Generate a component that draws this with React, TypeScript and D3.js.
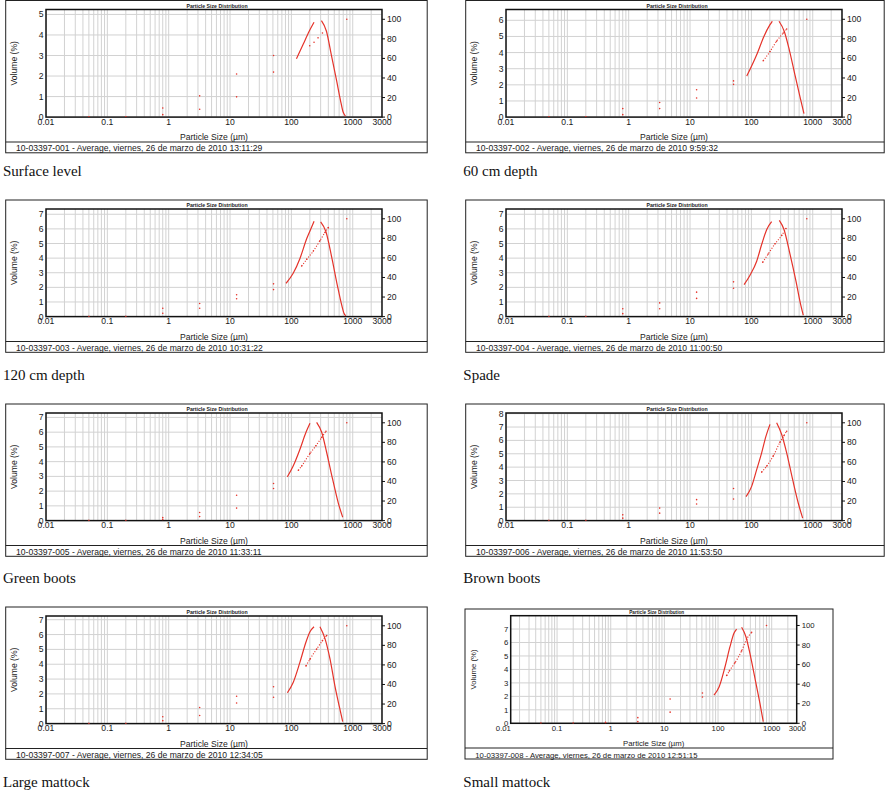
import * as d3 from 'd3'

const SANS = '"Liberation Sans", Arial, Helvetica, sans-serif'
const SERIF = '"Liberation Serif", "Times New Roman", serif'
const RED = '#e5332a'
const GRID = '#d2d2d2'

// one entry per panel
const captions = ['Surface level', '60 cm depth', '120 cm depth', 'Spade', 'Green boots', 'Brown boots', 'Large mattock', 'Small mattock']
const sampleIds = ['10-03397-001', '10-03397-002', '10-03397-003', '10-03397-004', '10-03397-005', '10-03397-006', '10-03397-007', '10-03397-008']
const times = ['13:11:29', '9:59:32', '10:31:22', '11:00:50', '11:33:11', '11:53:50', '12:34:05', '12:51:15']
const volumeMax = [5.24, 6.67, 7.36, 7.36, 7.3, 8.05, 7.25, 7.99]
const volumeTickMax = [5, 6, 7, 7, 7, 8, 7, 7]

const xTicks = [0.01, 0.1, 1, 10, 100, 1000, 3000]
const xTickLabels = ['0.01', '0.1', '1', '10', '100', '1000', '3000']
const cumTicks = [0, 20, 40, 60, 80, 100]

// sieve sizes (µm) where two points are plotted, plus the 100 % point
const sieveSizes = [0.05, 0.2, 0.8, 3.2, 12.8, 51.2]
const fullSize = 800

// volume (%) – rising and falling branches of the distribution, [size µm, volume %]
const volRise = [
  [[121, 2.84], [155, 3.53], [195, 4.18], [234, 4.62]],
  [[84, 2.54], [125, 3.96], [160, 5.0], [201, 5.73], [219, 5.94]],
  [[82, 2.28], [107, 2.96], [138, 3.98], [178, 5.34], [214, 6.13], [234, 6.52]],
  [[76, 2.19], [95, 2.83], [122, 3.79], [147, 4.93], [178, 5.96], [214, 6.49]],
  [[86, 2.97], [107, 3.7], [138, 4.84], [173, 5.99], [201, 6.6]],
  [[82, 1.8], [101, 2.56], [122, 3.81], [147, 5.07], [173, 6.32], [201, 7.2]],
  [[86, 2.08], [107, 2.77], [138, 4.14], [173, 5.5], [201, 6.19], [234, 6.53]],
  [[84, 2.1], [105, 2.72], [135, 4.2], [167, 5.69], [198, 6.68], [222, 7.0]],
]
const volFall = [
  [[309, 4.7], [373, 4.18], [447, 3.04], [543, 1.81], [630, 0.83], [695, 0.26], [760, 0.05]],
  [[282, 5.94], [344, 5.31], [415, 4.17], [514, 2.6], [620, 1.25], [720, 0.21]],
  [[300, 6.48], [366, 5.8], [453, 4.09], [560, 2.16], [660, 0.8], [720, 0.23], [770, 0.05]],
  [[285, 6.58], [340, 5.96], [427, 4.25], [533, 2.42], [636, 0.82], [701, 0.1]],
  [[258, 6.67], [312, 5.99], [376, 4.62], [471, 2.79], [582, 1.19], [686, 0.23]],
  [[258, 7.32], [312, 6.44], [376, 5.07], [471, 3.06], [582, 1.3], [686, 0.18]],
  [[292, 6.53], [353, 5.73], [426, 4.36], [513, 2.53], [604, 1.16], [686, 0.14]],
  [[275, 7.13], [331, 6.43], [405, 4.94], [509, 2.97], [604, 1.48], [696, 0.12]],
]
// cumulative (%) dotted run, [size µm, cumulative %]
const cumRun = [
  [[199, 73], [234, 76.5], [272, 81], [321, 86]],
  [[156, 57.6], [201, 67], [257, 77.6], [331, 86], [376, 90]],
  [[147, 51.7], [178, 58.6], [228, 67], [292, 77.6], [353, 86], [400, 91]],
  [[153, 55.5], [188, 64], [243, 74.5], [312, 83], [366, 90]],
  [[130, 51.4], [147, 55.8], [201, 68.7], [251, 76.5], [312, 85], [366, 91.4]],
  [[147, 49.6], [178, 55.8], [228, 66.2], [292, 80], [340, 86.9], [376, 91.4]],
  [[173, 59], [201, 65.9], [258, 76.2], [321, 84.8], [376, 90]],
  [[145, 48.9], [162, 53.4], [207, 62], [275, 74], [341, 86], [423, 93]],
]
const cumDotted = [false, true, true, true, true, true, true, true]
// the two points at each sieve size (%)
const sieveHigh = [
  [0, 0, 9.3, 21.7, 44, 63],
  [0, 0, 8.7, 14.9, 28, 37],
  [0, 0, 8.6, 13.4, 22.4, 33.5],
  [0, 0, 8, 14, 25, 35.5],
  [0, 0, 3, 8.3, 25.9, 38],
  [0, 0, 5.9, 12.8, 21.4, 32.8],
  [0, 0, 7, 16.5, 27.9, 37.6],
  [0, 0, 1, 5.8, 24.8, 31],
]
const sieveLow = [
  [0, 0, 2.5, 8, 20.7, 46],
  [0, 0, 2.5, 8.7, 19.6, 33.5],
  [0, 0, 3.5, 8.6, 18.3, 27.6],
  [0, 0, 3, 8, 18.6, 29],
  [0, 0, 1, 4.1, 12.8, 32.8],
  [0, 0, 2.5, 7.6, 17, 22.1],
  [0, 0, 3, 8.3, 21, 26.9],
  [0, 0, 0.2, 1.7, 11.4, 26.9],
]

// page layout of the eight printouts
const std = { h: 152.3, frameL: 40.3, frameR: 376.3, x0: 40.3, x1: 376.3, plotT: 9, plotB: 116.6, footerY: 141.5, fs: 1 }
const layouts = [
  { ...std, ox: 5.7, oy: 0.5, w: 421.5, capY: 176 },
  { ...std, ox: 465.7, oy: 0.5, w: 418.5, capY: 176 },
  { ...std, ox: 5.7, oy: 200, w: 421.5, capY: 380 },
  { ...std, ox: 465.7, oy: 200, w: 418.5, capY: 380 },
  { ...std, ox: 5.7, oy: 404, w: 421.5, capY: 582.7 },
  { ...std, ox: 465.7, oy: 404, w: 418.5, capY: 582.7 },
  { ...std, ox: 5.7, oy: 607, w: 421.5, capY: 786.5 },
  { ox: 465, oy: 609, w: 368, h: 150, frameL: 45.7, frameR: 331.7, x0: 38.4, x1: 332.3, plotT: 6.7, plotB: 114.3, footerY: 139, fs: 0.9, capY: 786.5 },
]

const gridSizes: number[] = []
for (let k = -2; k <= 3; k++) {
  for (let n = 1; n <= 9; n++) {
    const v = n * Math.pow(10, k)
    if (v <= 3000) gridSizes.push(+v.toPrecision(3))
  }
}

function Panel({ i }: { i: number }) {
  const L = layouts[i]
  const x = d3.scaleLog().domain([0.01, 3000]).range([L.x0, L.x1])
  const yV = d3.scaleLinear().domain([0, volumeMax[i]]).range([L.plotB, L.plotT])
  const yC = d3.scaleLinear().domain([0, 110]).range([L.plotB, L.plotT])
  const line = (sc: d3.ScaleLinear<number, number>) =>
    d3.line<number[]>().x(d => x(d[0])).y(d => sc(d[1])).curve(d3.curveMonotoneX)
  const volTicks = d3.range(0, volumeTickMax[i] + 1)
  const fs = 8.6 * L.fs
  const midX = (L.frameL + L.frameR) / 2
  const midY = (L.plotT + L.plotB) / 2
  const clipId = `plot-clip-${i}`

  return (
    <g transform={`translate(${L.ox},${L.oy})`} fontFamily={SANS} fill="#1a1a1a">
      <defs>
        <clipPath id={clipId}>
          <rect x={L.frameL} y={L.plotT} width={L.frameR - L.frameL} height={L.plotB - L.plotT} />
        </clipPath>
      </defs>
      <rect x={0} y={0} width={L.w} height={L.h} fill="#fff" stroke="#222" strokeWidth={1} />
      <line x1={0} x2={L.w} y1={L.footerY} y2={L.footerY} stroke="#222" strokeWidth={1.2} />
      <text x={midX + 3} y={L.plotT - 1.6} textAnchor="middle" fontSize={5.2 * L.fs} fontWeight="bold">
        Particle Size Distribution
      </text>

      <g clipPath={`url(#${clipId})`}>
        {gridSizes.map(s => (
          <line key={s} x1={x(s)} x2={x(s)} y1={L.plotT} y2={L.plotB} stroke={GRID} strokeWidth={1} />
        ))}
        {volTicks.map(t => (
          <line key={t} x1={L.frameL} x2={L.frameR} y1={yV(t)} y2={yV(t)} stroke={GRID} strokeWidth={1} />
        ))}
      </g>
      <rect x={L.frameL} y={L.plotT} width={L.frameR - L.frameL} height={L.plotB - L.plotT} fill="none" stroke="#111" strokeWidth={1.5} />

      <g clipPath={`url(#${clipId})`}>
        <path d={line(yV)(volRise[i]) || ''} fill="none" stroke={RED} strokeWidth={1.2} />
        <path d={line(yV)(volFall[i]) || ''} fill="none" stroke={RED} strokeWidth={1.2} />
        {cumDotted[i] && (
          <path d={line(yC)(cumRun[i]) || ''} fill="none" stroke={RED} strokeWidth={1.1} strokeDasharray="1.1 1.6" />
        )}
        {cumRun[i].map((d, j) => (
          <circle key={'c' + j} cx={x(d[0])} cy={yC(d[1])} r={0.8} fill={RED} />
        ))}
        {sieveSizes.map((s, j) => (
          <g key={'s' + j}>
            <circle cx={x(s)} cy={yC(sieveHigh[i][j])} r={0.8} fill={RED} />
            <circle cx={x(s)} cy={yC(sieveLow[i][j])} r={0.8} fill={RED} />
          </g>
        ))}
        <circle cx={x(fullSize)} cy={yC(100)} r={0.8} fill={RED} />
      </g>

      {volTicks.map(t => (
        <text key={'vl' + t} x={L.frameL - 2.5} y={yV(t)} dy="0.35em" textAnchor="end" fontSize={fs}>{t}</text>
      ))}
      {cumTicks.map(t => (
        <g key={'cl' + t}>
          <line x1={L.frameR} x2={L.frameR + 3} y1={yC(t)} y2={yC(t)} stroke="#111" strokeWidth={1} />
          <text x={L.frameR + 5} y={yC(t)} dy="0.35em" fontSize={fs}>{t}</text>
        </g>
      ))}
      {xTicks.map((t, j) => (
        <text key={'xl' + t} x={x(t)} y={L.plotB + 7.4} textAnchor="middle" fontSize={fs}>{xTickLabels[j]}</text>
      ))}
      <text x={midX} y={L.plotB + 23} textAnchor="middle" fontSize={fs}>Particle Size (µm)</text>
      <text transform={`translate(${8.3 + 3},${midY}) rotate(-90)`} textAnchor="middle" fontSize={fs}>Volume (%)</text>
      <text x={10.3} y={L.h - 1.5} fontSize={fs}>
        {`${sampleIds[i]} - Average, viernes, 26 de marzo de 2010 ${times[i]}`}
      </text>
    </g>
  )
}

export default function App() {
  return (
    <div style={{ position: 'absolute', left: 0, top: 0 }}>
      <svg width={885} height={793} style={{ display: 'block', background: '#fff' }}>
        {captions.map((c, i) => (
          <Panel key={c} i={i} />
        ))}
        {captions.map((c, i) => (
          <text key={'cap' + c} x={i % 2 === 0 ? 3 : 463.3} y={layouts[i].capY} fontFamily={SERIF} fontSize={15} fill="#111">
            {c}
          </text>
        ))}
      </svg>
    </div>
  )
}
